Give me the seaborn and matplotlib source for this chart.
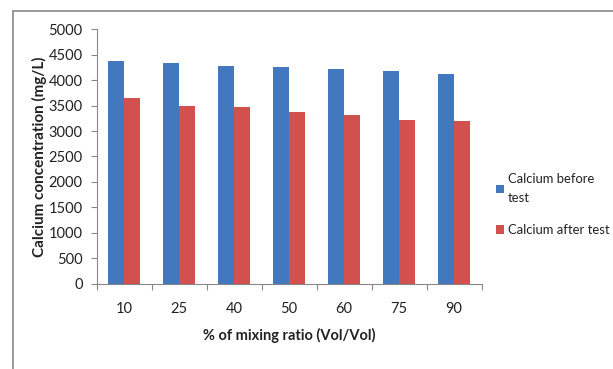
import matplotlib
matplotlib.use("Agg")
import matplotlib.pyplot as plt
import seaborn as sns
import pandas as pd
import numpy as np
from matplotlib.lines import Line2D

ratios = ["10", "25", "40", "50", "60", "75", "90"]
ca_before = [4380, 4330, 4285, 4250, 4215, 4175, 4125]
ca_after = [3645, 3485, 3470, 3380, 3310, 3215, 3205]
series = ["Calcium before\ntest", "Calcium after test"]
colors = ["#4279BE", "#D2504D"]

df = pd.DataFrame({
    "ratio": ratios * 2,
    "value": ca_before + ca_after,
    "series": [series[0]] * len(ratios) + [series[1]] * len(ratios),
})

sns.set_theme(style="white")
plt.rcParams["font.family"] = ["Lato", "DejaVu Sans"]

fig = plt.figure(figsize=(6.13, 3.69), dpi=100)
ax = fig.add_axes([0.1576, 0.2312, 0.628, 0.6894])

sns.barplot(data=df, x="ratio", y="value", hue="series", order=ratios,
            hue_order=series, palette=colors, width=0.58, ax=ax,
            edgecolor="none", linewidth=0, saturation=1)

ax.set_ylim(0, 5000)
ax.set_yticks(np.arange(0, 5001, 500))
ax.set_xlim(-0.5, len(ratios) - 0.5)
ax.set_xticks(np.arange(-0.5, len(ratios), 1.0))
ax.set_xticklabels([])
ax.set_xticks(np.arange(len(ratios)), minor=True)
ax.set_xticklabels(ratios, minor=True)
ax.tick_params(axis="x", which="minor", length=0, pad=13, labelsize=10.5, colors="#222222")
ax.tick_params(axis="x", which="major", length=4, width=0.8, color="#888888", direction="out", bottom=True)
ax.tick_params(axis="y", length=4, width=0.8, color="#888888", direction="out", left=True,
               labelsize=10.5, colors="#222222", pad=6)

for s in ["top", "right"]:
    ax.spines[s].set_visible(False)
for s in ["left", "bottom"]:
    ax.spines[s].set_color("#888888")
    ax.spines[s].set_linewidth(0.8)

ax.set_xlabel("% of mixing ratio (Vol/Vol)", fontsize=10.5, fontweight="bold", labelpad=9, color="#222222")
ax.set_ylabel("Calcium concentration (mg/L)", fontsize=11, fontweight="bold", labelpad=1,
              color="#222222")

leg = ax.legend(loc="upper left", bbox_to_anchor=(1.025, 0.455), frameon=False, fontsize=9.4,
                handlelength=0.6, handleheight=0.65, handletextpad=0.3, labelspacing=1.5,
                borderaxespad=0)
for t in leg.get_texts():
    t.set_color("#222222")
    t.set_linespacing(1.7)

# outer frame
fig.add_artist(Line2D([12.5 / 613, 1.0], [1 - 10.7 / 369] * 2, transform=fig.transFigure,
                      color="#888888", linewidth=1.2))
fig.add_artist(Line2D([12.5 / 613] * 2, [0, 1 - 10.7 / 369], transform=fig.transFigure,
                      color="#888888", linewidth=1.2))

fig.savefig("out.png", dpi=100)
